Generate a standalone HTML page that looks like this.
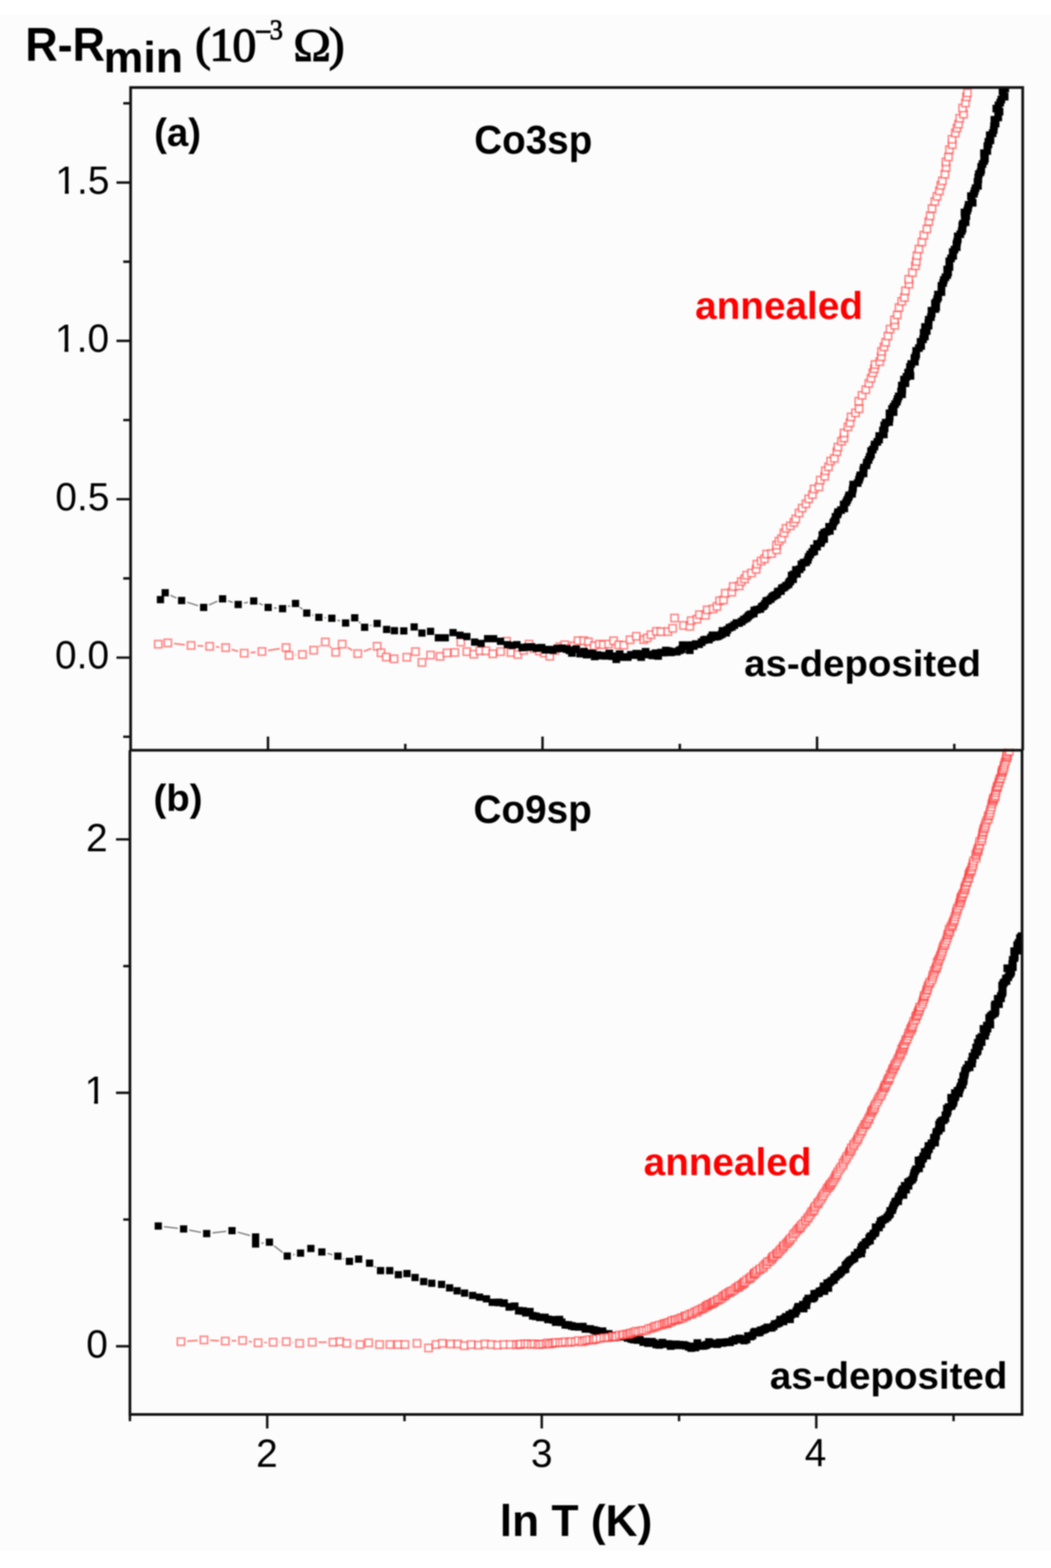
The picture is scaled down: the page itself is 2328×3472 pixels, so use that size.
<!DOCTYPE html>
<html><head><meta charset="utf-8"><title>R-Rmin vs ln T</title>
<style>
html,body{margin:0;padding:0;background:#fcfcfc;}
body{width:2328px;height:3472px;overflow:hidden;position:relative;}
.top{position:absolute;left:0;top:0;width:2328px;height:32px;background:#fff;}
.bot{position:absolute;left:0;top:3433px;width:2328px;height:39px;background:#fff;}
svg{position:absolute;left:0;top:0;filter:blur(1.4px);}
.sans{font-family:"Liberation Sans",Arial,sans-serif;}
.serif{font-family:"Liberation Serif","Times New Roman",serif;}
</style></head>
<body><div class="top"></div><div class="bot"></div>
<svg width="2328" height="3472" viewBox="0 0 2328 3472">
<defs>
<rect id="r" x="-8" y="-8" width="16" height="16" fill="#fff" stroke="rgba(255,30,30,0.52)" stroke-width="3.6"/>
<clipPath id="ca"><rect x="289.3" y="193.8" width="1976.0000000000002" height="1467.4"/></clipPath>
<clipPath id="cb"><rect x="287.8" y="1657.2" width="1974.1000000000001" height="1474.8"/></clipPath>
</defs>
<g clip-path="url(#ca)">
<path d="M385.6 1425L409.4 1427.7M437.3 1429.8L450.4 1430.5M478.4 1432.2L485.8 1432.9M513.2 1438L527.6 1442.4M554.9 1445L566.3 1444M594 1440.3L619.8 1436.2M654.3 1450.2L655.9 1450.1M706.2 1431.6L709.2 1429.6M730.5 1431.4L733.7 1434.5M769.9 1433.6L780.4 1440M805.5 1442.3L822.3 1436" fill="none" stroke="#ff7a7a" stroke-width="3.5"/>
<use href="#r" x="350.6" y="1426.4"/><use href="#r" x="371.7" y="1423.5"/><use href="#r" x="423.3" y="1429.2"/><use href="#r" x="464.4" y="1431.1"/><use href="#r" x="499.8" y="1434"/><use href="#r" x="541" y="1446.4"/><use href="#r" x="580.2" y="1442.6"/><use href="#r" x="633.6" y="1433.9"/><use href="#r" x="640.3" y="1451.1"/><use href="#r" x="669.9" y="1449.2"/><use href="#r" x="694.8" y="1439.7"/><use href="#r" x="720.6" y="1421.5"/><use href="#r" x="743.6" y="1444.4"/><use href="#r" x="757.9" y="1426.3"/><use href="#r" x="792.4" y="1447.3"/><use href="#r" x="835.4" y="1431"/><use href="#r" x="844" y="1445.4"/><use href="#r" x="855.5" y="1455"/><use href="#r" x="872.7" y="1458.8"/><use href="#r" x="901.1" y="1455.3"/><use href="#r" x="920.3" y="1442.9"/><use href="#r" x="934.6" y="1466.8"/><use href="#r" x="953.7" y="1450.5"/><use href="#r" x="974.8" y="1453.4"/><use href="#r" x="990.1" y="1445.7"/><use href="#r" x="1007.3" y="1444.8"/><use href="#r" x="1020.7" y="1421.8"/><use href="#r" x="1034.1" y="1442.9"/><use href="#r" x="1049.4" y="1448.6"/><use href="#r" x="1062.8" y="1441"/><use href="#r" x="1076.2" y="1441"/><use href="#r" x="1091.5" y="1447.7"/><use href="#r" x="1108.7" y="1442.9"/><use href="#r" x="1122.1" y="1419.9"/><use href="#r" x="1131.7" y="1444.8"/><use href="#r" x="1147" y="1449.3"/><use href="#r" x="1160" y="1440"/><use href="#r" x="1171.9" y="1426.3"/><use href="#r" x="1183" y="1436"/><use href="#r" x="1194.8" y="1441.6"/><use href="#r" x="1206" y="1446"/><use href="#r" x="1217.8" y="1453.1"/><use href="#r" x="1229" y="1440"/><use href="#r" x="1240" y="1432"/><use href="#r" x="1251" y="1427.6"/><use href="#r" x="1262" y="1436"/><use href="#r" x="1271" y="1430"/><use href="#r" x="1280.3" y="1418.7"/><use href="#r" x="1293.1" y="1418.7"/><use href="#r" x="1303.3" y="1421.2"/><use href="#r" x="1305.8" y="1436.5"/><use href="#r" x="1316" y="1430"/><use href="#r" x="1327.5" y="1426.3"/><use href="#r" x="1336.4" y="1427.6"/><use href="#r" x="1348.1" y="1426.2"/><use href="#r" x="1359.1" y="1418.8"/><use href="#r" x="1370.3" y="1428"/><use href="#r" x="1381.8" y="1428.7"/><use href="#r" x="1395.7" y="1416.6"/><use href="#r" x="1409.4" y="1408.9"/><use href="#r" x="1426" y="1416.4"/><use href="#r" x="1433.6" y="1412.5"/><use href="#r" x="1441.9" y="1405.4"/><use href="#r" x="1453.9" y="1398.1"/><use href="#r" x="1463.9" y="1398.7"/><use href="#r" x="1479.2" y="1398.5"/><use href="#r" x="1489.9" y="1391.3"/><use href="#r" x="1494.2" y="1368.5"/><use href="#r" x="1514" y="1384.8"/><use href="#r" x="1528" y="1386.9"/><use href="#r" x="1530.9" y="1374.4"/><use href="#r" x="1543.7" y="1371.1"/><use href="#r" x="1549.3" y="1361.1"/><use href="#r" x="1562.7" y="1362.4"/><use href="#r" x="1566.4" y="1350.4"/><use href="#r" x="1579.4" y="1348.4"/><use href="#r" x="1588.1" y="1342.9"/><use href="#r" x="1594" y="1330.3"/><use href="#r" x="1602.6" y="1328.6"/><use href="#r" x="1606.5" y="1313.7"/><use href="#r" x="1620.8" y="1311.3"/><use href="#r" x="1624.1" y="1298.6"/><use href="#r" x="1637.4" y="1297.3"/><use href="#r" x="1641.9" y="1287.8"/><use href="#r" x="1649.2" y="1281.9"/><use href="#r" x="1653.7" y="1273.7"/><use href="#r" x="1664.5" y="1268.9"/><use href="#r" x="1674.8" y="1260.7"/><use href="#r" x="1676.6" y="1249.3"/><use href="#r" x="1685.9" y="1242.4"/><use href="#r" x="1693.4" y="1237.5"/><use href="#r" x="1698.1" y="1227"/><use href="#r" x="1709" y="1225.7"/><use href="#r" x="1720.3" y="1217.6"/><use href="#r" x="1719.9" y="1207"/><use href="#r" x="1725.4" y="1198.4"/><use href="#r" x="1731.3" y="1192.6"/><use href="#r" x="1736.6" y="1180"/><use href="#r" x="1741.2" y="1170"/><use href="#r" x="1750.6" y="1164.4"/><use href="#r" x="1758.5" y="1156.8"/><use href="#r" x="1762.6" y="1149"/><use href="#r" x="1770" y="1136"/><use href="#r" x="1776.8" y="1125.1"/><use href="#r" x="1785.2" y="1115.6"/><use href="#r" x="1791.3" y="1104.6"/><use href="#r" x="1799.6" y="1095.2"/><use href="#r" x="1803.1" y="1082.7"/><use href="#r" x="1814.1" y="1078.1"/><use href="#r" x="1816.9" y="1063.1"/><use href="#r" x="1826.8" y="1054.7"/><use href="#r" x="1828.2" y="1042.4"/><use href="#r" x="1835.2" y="1033.6"/><use href="#r" x="1839.9" y="1020.9"/><use href="#r" x="1848.2" y="1014.9"/><use href="#r" x="1853.7" y="1000.4"/><use href="#r" x="1856" y="989.9"/><use href="#r" x="1863.8" y="977.1"/><use href="#r" x="1869.4" y="969.9"/><use href="#r" x="1869.6" y="958.7"/><use href="#r" x="1878.2" y="945.4"/><use href="#r" x="1882.8" y="936.3"/><use href="#r" x="1885.2" y="923.2"/><use href="#r" x="1895" y="914.3"/><use href="#r" x="1903" y="905.1"/><use href="#r" x="1902.2" y="888.6"/><use href="#r" x="1909.4" y="875.4"/><use href="#r" x="1917.8" y="862.9"/><use href="#r" x="1924.5" y="849"/><use href="#r" x="1929.4" y="837.7"/><use href="#r" x="1933.3" y="825.7"/><use href="#r" x="1936.8" y="816.5"/><use href="#r" x="1938.3" y="807.2"/><use href="#r" x="1948.6" y="800.9"/><use href="#r" x="1952.1" y="789.9"/><use href="#r" x="1952.6" y="778.2"/><use href="#r" x="1958.1" y="768.1"/><use href="#r" x="1961.7" y="757.9"/><use href="#r" x="1966.9" y="744"/><use href="#r" x="1971.5" y="728.7"/><use href="#r" x="1981.9" y="720.4"/><use href="#r" x="1981.2" y="708.3"/><use href="#r" x="1987.4" y="697.2"/><use href="#r" x="1991.4" y="681"/><use href="#r" x="1997.4" y="667.4"/><use href="#r" x="2003.3" y="658.7"/><use href="#r" x="2005.5" y="643.8"/><use href="#r" x="2013.7" y="629.3"/><use href="#r" x="2012.9" y="618.4"/><use href="#r" x="2021" y="603.6"/><use href="#r" x="2027.7" y="588.6"/><use href="#r" x="2029.7" y="579"/><use href="#r" x="2031.2" y="565.9"/><use href="#r" x="2035.5" y="551.6"/><use href="#r" x="2042" y="535.9"/><use href="#r" x="2046.4" y="520.9"/><use href="#r" x="2053.1" y="507"/><use href="#r" x="2057.4" y="490.5"/><use href="#r" x="2060.3" y="478"/><use href="#r" x="2064.5" y="461.8"/><use href="#r" x="2070.7" y="446.2"/><use href="#r" x="2075.5" y="434.8"/><use href="#r" x="2080.8" y="422.7"/><use href="#r" x="2083.8" y="410.5"/><use href="#r" x="2087.4" y="400.5"/><use href="#r" x="2093" y="385.8"/><use href="#r" x="2095.6" y="370.8"/><use href="#r" x="2095.3" y="358.6"/><use href="#r" x="2100.9" y="347.6"/><use href="#r" x="2103.1" y="331.4"/><use href="#r" x="2109.3" y="320.2"/><use href="#r" x="2108.8" y="308.4"/><use href="#r" x="2116.1" y="294.7"/><use href="#r" x="2119.7" y="283.6"/><use href="#r" x="2123.2" y="274.9"/><use href="#r" x="2125.9" y="261.9"/><use href="#r" x="2134.2" y="252.9"/><use href="#r" x="2132.2" y="239.3"/><use href="#r" x="2138.6" y="228.1"/><use href="#r" x="2140.8" y="214.3"/><use href="#r" x="2142.9" y="205.7"/>
<path d="M377.7 1318.1L390.5 1324.1M414.7 1333.6L438.7 1341.1M462.9 1339.6L481.3 1331.3M505.3 1330.3L515.4 1334M540.3 1335.6L549.3 1333.5M573.9 1336L582.1 1339.7M607 1346.1L612.9 1346.7M638 1343L642.5 1341.1M664.5 1344.7L669.6 1349M691.7 1361.8L694.1 1362.6M719.3 1367.9L722 1368M747.3 1373.1L753.3 1375.2M795.1 1376.9L798.3 1380M820.1 1385.1L823 1384.3" fill="none" stroke="#7a7a7a" stroke-width="3"/>
<path d="M347.4 1319.8h16v16h-16zM357.9 1304.5h16v16h-16zM394.3 1321.7h16v16h-16zM443.1 1337h16v16h-16zM485.1 1317.9h16v16h-16zM519.6 1330.4h16v16h-16zM554 1322.7h16v16h-16zM586 1337h16v16h-16zM617.9 1339.8h16v16h-16zM646.6 1328.3h16v16h-16zM671.5 1349.4h16v16h-16zM698.3 1359h16v16h-16zM727 1360.9h16v16h-16zM757.6 1371.4h16v16h-16zM777.7 1359.9h16v16h-16zM799.7 1381h16v16h-16zM827.4 1372.4h16v16h-16zM848.4 1385.7h16v16h-16zM865.7 1388.6h16v16h-16zM886.4 1389h16v16h-16zM909.4 1380.3h16v16h-16zM926.6 1393.7h16v16h-16zM945.7 1389.9h16v16h-16zM963 1404.3h16v16h-16zM978.3 1404.3h16v16h-16zM995.5 1392.8h16v16h-16zM1010.8 1398.5h16v16h-16zM1026.1 1401.4h16v16h-16zM1043.3 1413.8h16v16h-16zM1057.7 1416.7h16v16h-16zM1072 1406.2h16v16h-16zM1085.4 1406.2h16v16h-16zM1100.7 1411.9h16v16h-16zM1116 1419.6h16v16h-16zM1126.5 1421h16v16h-16zM1137 1419.6h16v16h-16zM1148.5 1425.2h17v17h-17zM1160.5 1424.2h17v17h-17zM1168.5 1423.9h17v17h-17zM1179.9 1426.5h17v17h-17zM1191.1 1425.7h17v17h-17zM1199.5 1430.2h17v17h-17zM1207.4 1429.9h17v17h-17zM1216 1430.7h17v17h-17zM1225.7 1427.5h17v17h-17zM1236 1427h17v17h-17zM1246.8 1428.7h17v17h-17zM1253.1 1431.6h17v17h-17zM1258.4 1437.3h17v17h-17zM1267.7 1429h17v17h-17zM1276.6 1438.8h17v17h-17zM1285.1 1434.5h17v17h-17zM1291.1 1440.9h17v17h-17zM1297.7 1438.2h17v17h-17zM1303.9 1438.7h17v17h-17zM1308.7 1445.1h17v17h-17zM1314.9 1442h17v17h-17zM1323.9 1443.2h17v17h-17zM1332.7 1443.7h17v17h-17zM1341.1 1438.4h17v17h-17zM1348.2 1444.4h17v17h-17zM1356.6 1451.2h17v17h-17zM1364.1 1440h17v17h-17zM1370.4 1446.2h17v17h-17zM1375.8 1446.6h17v17h-17zM1382 1446.4h17v17h-17zM1388.9 1441.5h17v17h-17zM1395.9 1441.9h17v17h-17zM1400.9 1439.1h17v17h-17zM1406.5 1442.3h17v17h-17zM1411.7 1446.6h17v17h-17zM1416.4 1439.5h17v17h-17zM1421.5 1434.8h17v17h-17zM1428.9 1440.8h17v17h-17zM1436.6 1442.7h17v17h-17zM1443.7 1438.1h17v17h-17zM1449.3 1444h17v17h-17zM1455.9 1436.5h17v17h-17zM1460.7 1436.4h17v17h-17zM1466.4 1431.9h17v17h-17zM1472.1 1433.2h17v17h-17zM1477.7 1436h17v17h-17zM1484.7 1434.6h17v17h-17zM1490.8 1434.6h17v17h-17zM1496.8 1431.4h17v17h-17zM1501.7 1429.3h17v17h-17zM1503.7 1420.1h17v17h-17zM1510.7 1422.3h17v17h-17zM1519.3 1431.2h17v17h-17zM1521.1 1420.1h17v17h-17zM1528.2 1421.9h17v17h-17zM1532.7 1417.8h17v17h-17zM1540 1417.9h17v17h-17zM1545.7 1413.5h17v17h-17zM1550.6 1409h17v17h-17zM1554.7 1407.8h17v17h-17zM1561.7 1407.7h17v17h-17zM1566.2 1403.6h17v17h-17zM1569.6 1398.2h17v17h-17zM1576.2 1401.6h17v17h-17zM1581.1 1400.6h17v17h-17zM1585.4 1398.2h17v17h-17zM1590.4 1395.7h17v17h-17zM1591.8 1388.5h17v17h-17zM1599.8 1392.6h17v17h-17zM1602.5 1386.2h17v17h-17zM1607.3 1381.5h17v17h-17zM1612.6 1379.6h17v17h-17zM1617.8 1375.8h17v17h-17zM1622.8 1371.3h17v17h-17zM1628.5 1371h17v17h-17zM1634.4 1367.7h17v17h-17zM1639.1 1363.5h17v17h-17zM1644.5 1360.8h17v17h-17zM1647.9 1357.5h17v17h-17zM1650.7 1354h17v17h-17zM1654.4 1351.7h17v17h-17zM1661 1349.9h17v17h-17zM1662.4 1343.2h17v17h-17zM1668.2 1341.4h17v17h-17zM1675.6 1339.9h17v17h-17zM1679 1335h17v17h-17zM1682.9 1333h17v17h-17zM1685.8 1328.7h17v17h-17zM1688.8 1322.6h17v17h-17zM1693 1321.3h17v17h-17zM1698.5 1318h17v17h-17zM1701.7 1313.6h17v17h-17zM1704.9 1311.3h17v17h-17zM1708.2 1309.4h17v17h-17zM1712.7 1307.5h17v17h-17zM1714.5 1301.4h17v17h-17zM1721.2 1300.2h17v17h-17zM1723.5 1294.1h17v17h-17zM1728.5 1292.3h17v17h-17zM1732.6 1288.6h17v17h-17zM1737.8 1285.4h17v17h-17zM1739.7 1281.1h17v17h-17zM1742.4 1278.2h17v17h-17zM1748.2 1274.1h17v17h-17zM1745 1265.9h17v17h-17zM1749.5 1263.4h17v17h-17zM1756.8 1262h17v17h-17zM1754.5 1253.5h17v17h-17zM1762.8 1252.1h17v17h-17zM1766.9 1247.2h17v17h-17zM1766.7 1241.2h17v17h-17zM1771.6 1237.4h17v17h-17zM1777.1 1236.4h17v17h-17zM1780.7 1231.5h17v17h-17zM1782.6 1224.7h17v17h-17zM1786.1 1219.3h17v17h-17zM1790.5 1213.9h17v17h-17zM1795.1 1212.3h17v17h-17zM1794.4 1205.9h17v17h-17zM1801.3 1202h17v17h-17zM1801.4 1196.1h17v17h-17zM1809.5 1194.1h17v17h-17zM1811.2 1188.8h17v17h-17zM1817 1185.1h17v17h-17zM1813.1 1175.9h17v17h-17zM1816.9 1171.3h17v17h-17zM1822.3 1169h17v17h-17zM1829.6 1167h17v17h-17zM1828 1158h17v17h-17zM1835.7 1156.7h17v17h-17zM1837.1 1149.5h17v17h-17zM1839.5 1145.6h17v17h-17zM1842.9 1142.5h17v17h-17zM1842.2 1136.1h17v17h-17zM1846.7 1130.4h17v17h-17zM1848 1125.6h17v17h-17zM1854.4 1120.9h17v17h-17zM1861.6 1117.3h17v17h-17zM1860.3 1108.6h17v17h-17zM1865.8 1103.5h17v17h-17zM1868.3 1098.5h17v17h-17zM1870.9 1093h17v17h-17zM1872.6 1088.3h17v17h-17zM1878.8 1084.7h17v17h-17zM1879.8 1076.7h17v17h-17zM1881 1071.8h17v17h-17zM1881.4 1064.5h17v17h-17zM1891.3 1061h17v17h-17zM1894.1 1054.2h17v17h-17zM1895.8 1048.7h17v17h-17zM1897.2 1043.9h17v17h-17zM1904.3 1039.7h17v17h-17zM1903.5 1032.7h17v17h-17zM1904.9 1026.9h17v17h-17zM1910.8 1021.8h17v17h-17zM1911.6 1015.8h17v17h-17zM1915.3 1010h17v17h-17zM1917.9 1003.1h17v17h-17zM1920.8 998.3h17v17h-17zM1920.9 990.5h17v17h-17zM1924.7 987h17v17h-17zM1928.2 980.6h17v17h-17zM1928.9 975.8h17v17h-17zM1934.8 969.9h17v17h-17zM1938.7 964.7h17v17h-17zM1939.1 957.1h17v17h-17zM1949.2 953.6h17v17h-17zM1947.2 944.8h17v17h-17zM1951 939.9h17v17h-17zM1950.1 933.5h17v17h-17zM1953.5 927.5h17v17h-17zM1960.9 926h17v17h-17zM1961.8 918.1h17v17h-17zM1962.3 912.6h17v17h-17zM1961.8 906.8h17v17h-17zM1970.8 904.1h17v17h-17zM1967.4 897.1h17v17h-17zM1970.9 892h17v17h-17zM1974.3 886.2h17v17h-17zM1978 881h17v17h-17zM1979.8 875h17v17h-17zM1982.2 869.2h17v17h-17zM1989.6 864.6h17v17h-17zM1987.4 858.2h17v17h-17zM1990.1 854.2h17v17h-17zM1989 845.3h17v17h-17zM1997 840.1h17v17h-17zM1993.9 832h17v17h-17zM1999.3 825.9h17v17h-17zM2008.2 823.7h17v17h-17zM2003 816.6h17v17h-17zM2007 811.7h17v17h-17zM2007.2 804h17v17h-17zM2009.9 797.4h17v17h-17zM2017.9 792.6h17v17h-17zM2017 784.6h17v17h-17zM2019.7 780.3h17v17h-17zM2021 775.5h17v17h-17zM2020.9 768.4h17v17h-17zM2026.8 762.3h17v17h-17zM2031.8 757.6h17v17h-17zM2030.6 748.6h17v17h-17zM2036.1 742.8h17v17h-17zM2040.2 736.6h17v17h-17zM2037.4 728.2h17v17h-17zM2044.3 724.5h17v17h-17zM2040.5 715.6h17v17h-17zM2048.3 712.6h17v17h-17zM2047.9 706.9h17v17h-17zM2048.7 699.5h17v17h-17zM2053.5 693.7h17v17h-17zM2055.2 685.8h17v17h-17zM2054.8 679.4h17v17h-17zM2063.3 675.8h17v17h-17zM2065.1 671.5h17v17h-17zM2062.4 663.6h17v17h-17zM2065.3 659.9h17v17h-17zM2067.5 653.5h17v17h-17zM2069.6 649.4h17v17h-17zM2069.1 643.7h17v17h-17zM2076.8 638.3h17v17h-17zM2076.8 631.9h17v17h-17zM2076.9 624.5h17v17h-17zM2080.5 617.9h17v17h-17zM2082.1 611.4h17v17h-17zM2085.7 605.4h17v17h-17zM2089.6 600.5h17v17h-17zM2091.6 595h17v17h-17zM2089.6 588.2h17v17h-17zM2094.6 582.4h17v17h-17zM2094.2 576.3h17v17h-17zM2094.2 570.2h17v17h-17zM2098.1 563.8h17v17h-17zM2102.8 558.1h17v17h-17zM2101.8 549.7h17v17h-17zM2105.8 544.3h17v17h-17zM2110.7 538.7h17v17h-17zM2110 532.2h17v17h-17zM2111.6 527.1h17v17h-17zM2113 521.3h17v17h-17zM2112.9 514.9h17v17h-17zM2118.6 510h17v17h-17zM2121.7 502.9h17v17h-17zM2123.6 498h17v17h-17zM2123 491.2h17v17h-17zM2124.5 486.9h17v17h-17zM2130.3 483.5h17v17h-17zM2128.5 475.1h17v17h-17zM2131.9 469.7h17v17h-17zM2127.9 462.1h17v17h-17zM2134.1 457.4h17v17h-17zM2135.8 452.1h17v17h-17zM2137 445h17v17h-17zM2146 440.4h17v17h-17zM2143.6 433.4h17v17h-17zM2142.2 425.7h17v17h-17zM2148.6 420.6h17v17h-17zM2150.5 414.2h17v17h-17zM2152.5 408.3h17v17h-17zM2157.7 403h17v17h-17zM2156.7 394.3h17v17h-17zM2158.5 389.1h17v17h-17zM2158.3 384.2h17v17h-17zM2159.7 377h17v17h-17zM2163.4 372.8h17v17h-17zM2164.9 367.4h17v17h-17zM2164.9 360.9h17v17h-17zM2167.8 354.7h17v17h-17zM2171.3 348.1h17v17h-17zM2173.1 342.7h17v17h-17zM2173.2 336.5h17v17h-17zM2171.1 330.7h17v17h-17zM2178.4 325.7h17v17h-17zM2178.4 320.6h17v17h-17zM2178.6 315h17v17h-17zM2180.9 310.9h17v17h-17zM2180.8 305.6h17v17h-17zM2185.3 302.3h17v17h-17zM2185.4 296.6h17v17h-17zM2183.9 290.9h17v17h-17zM2190.2 286.4h17v17h-17zM2192.6 279.3h17v17h-17zM2193.3 271.1h17v17h-17zM2196.8 264.9h17v17h-17zM2194.1 256.8h17v17h-17zM2202.6 251.5h17v17h-17zM2202.5 243h17v17h-17zM2205.5 238.7h17v17h-17zM2198.4 231.9h17v17h-17zM2203.1 224.8h17v17h-17zM2207 218.8h17v17h-17zM2209.5 212h17v17h-17zM2216.8 205.4h17v17h-17zM2213.8 198.6h17v17h-17zM2212.2 193.3h17v17h-17zM2218.2 187.4h17v17h-17z" fill="#000"/>
</g>
<g clip-path="url(#cb)">
<path d="M363.5 2716.3L393.8 2719.7M419.4 2723.7L445.1 2728.9M470.7 2729.9L501 2726.5M526.5 2728.4L553.6 2735.7M579.1 2752.8L583.9 2752.2M607.1 2758.6L626 2773.2M649 2778.4L653 2777.6M725.5 2775.5L735.9 2778.3M760.4 2786.9L762.1 2787.8M829.3 2804.2L832.2 2806.2" fill="none" stroke="#7a7a7a" stroke-width="3"/>
<path d="M342.6 2706.8h16v16h-16zM398.7 2713.2h16v16h-16zM449.8 2723.4h16v16h-16zM505.9 2717h16v16h-16zM558.2 2731.1h16v16h-16zM558.2 2746.4h16v16h-16zM588.8 2742.6h16v16h-16zM628.3 2773.2h16v16h-16zM657.7 2766.8h16v16h-16zM680.6 2756.6h16v16h-16zM704.9 2764.2h16v16h-16zM740.5 2773.6h16v16h-16zM766 2785.1h16v16h-16zM786.4 2780h16v16h-16zM810.6 2788.9h16v16h-16zM834.9 2805.5h16v16h-16zM855.3 2805.5h16v16h-16zM874.4 2814.4h16v16h-16zM893.5 2811.9h16v16h-16zM911.4 2820.8h16v16h-16zM930.5 2829.8h16v16h-16zM948.4 2833.6h16v16h-16zM970.1 2836.1h16v16h-16zM987.9 2843.8h16v16h-16zM1004.5 2850.2h16v16h-16zM1021.1 2855.3h16v16h-16zM1038.9 2860.4h16v16h-16zM1054.2 2864.2h16v16h-16zM1069.6 2868h16v16h-16zM1082.3 2875.7h16v16h-16zM1095.9 2875.6h17v17h-17zM1107.9 2877.1h17v17h-17zM1119.7 2885.2h17v17h-17zM1131.5 2884h17v17h-17zM1140.6 2893.7h17v17h-17zM1150.1 2894.4h17v17h-17zM1156.5 2898.2h17v17h-17zM1165 2896.1h17v17h-17zM1171.6 2905h17v17h-17zM1178.5 2906.3h17v17h-17zM1187.5 2908.4h17v17h-17zM1198.5 2908.7h17v17h-17zM1205.4 2913.1h17v17h-17zM1216.9 2914.1h17v17h-17zM1222.5 2919.1h17v17h-17zM1230.6 2913.6h17v17h-17zM1235.6 2919.5h17v17h-17zM1243.8 2925.1h17v17h-17zM1250.7 2925.6h17v17h-17zM1258 2927.6h17v17h-17zM1264.2 2928.9h17v17h-17zM1273.4 2929.6h17v17h-17zM1282.5 2929.1h17v17h-17zM1288.3 2934.1h17v17h-17zM1298.6 2934.2h17v17h-17zM1306.7 2936.5h17v17h-17zM1311.9 2938.1h17v17h-17zM1317.4 2939.7h17v17h-17zM1326.1 2939.2h17v17h-17zM1333.7 2945.2h17v17h-17zM1339.7 2945.3h17v17h-17zM1347.7 2949.5h17v17h-17zM1353.2 2953h17v17h-17zM1360.4 2951.3h17v17h-17zM1367.6 2951.3h17v17h-17zM1374.9 2949.3h17v17h-17zM1381.7 2954h17v17h-17zM1389.7 2956.3h17v17h-17zM1395.4 2957.7h17v17h-17zM1403.7 2958.7h17v17h-17zM1408.8 2958.3h17v17h-17zM1416.3 2963.3h17v17h-17zM1421.2 2962.2h17v17h-17zM1427.1 2965.5h17v17h-17zM1435.5 2962.4h17v17h-17zM1439.9 2965.6h17v17h-17zM1445.3 2968.6h17v17h-17zM1451.7 2969.4h17v17h-17zM1458.5 2964.5h17v17h-17zM1465.2 2967.7h17v17h-17zM1471.7 2967.6h17v17h-17zM1477 2972h17v17h-17zM1482.9 2970.5h17v17h-17zM1488.4 2968.2h17v17h-17zM1492.4 2969.9h17v17h-17zM1496.4 2969h17v17h-17zM1501.4 2970.5h17v17h-17zM1506.2 2969.5h17v17h-17zM1510.5 2971.2h17v17h-17zM1517.3 2973.7h17v17h-17zM1522.6 2976.4h17v17h-17zM1527.1 2972.7h17v17h-17zM1531.8 2975.2h17v17h-17zM1536.2 2965.6h17v17h-17zM1542.8 2971.9h17v17h-17zM1548.9 2971.7h17v17h-17zM1553.5 2970.7h17v17h-17zM1557.1 2969.1h17v17h-17zM1561.9 2963.2h17v17h-17zM1567.6 2965.8h17v17h-17zM1574.1 2967.1h17v17h-17zM1580 2967.9h17v17h-17zM1585.6 2963.9h17v17h-17zM1591.7 2965.2h17v17h-17zM1596.7 2964h17v17h-17zM1600.5 2963.4h17v17h-17zM1604.6 2963h17v17h-17zM1608.5 2963.7h17v17h-17zM1613.7 2960.2h17v17h-17zM1617 2960h17v17h-17zM1620.1 2957.3h17v17h-17zM1625 2957.4h17v17h-17zM1629 2955.3h17v17h-17zM1634.6 2956.9h17v17h-17zM1639.9 2959.7h17v17h-17zM1645.2 2957.4h17v17h-17zM1648.2 2950.1h17v17h-17zM1654.4 2950.9h17v17h-17zM1658.3 2948.5h17v17h-17zM1661.3 2942.5h17v17h-17zM1664.2 2940.3h17v17h-17zM1668.5 2942.6h17v17h-17zM1674.2 2941.7h17v17h-17zM1676.2 2937.5h17v17h-17zM1679.6 2937.1h17v17h-17zM1684 2935.4h17v17h-17zM1686.9 2933.8h17v17h-17zM1691.3 2930.8h17v17h-17zM1695.5 2931.7h17v17h-17zM1700.8 2931.5h17v17h-17zM1705.2 2928.2h17v17h-17zM1707.7 2923.5h17v17h-17zM1712.6 2922.8h17v17h-17zM1717.2 2920.7h17v17h-17zM1719.6 2913.6h17v17h-17zM1726.9 2917.5h17v17h-17zM1729.1 2911.2h17v17h-17zM1732.3 2907.4h17v17h-17zM1741.4 2912.8h17v17h-17zM1740 2903h17v17h-17zM1744.2 2902.3h17v17h-17zM1746.8 2899.2h17v17h-17zM1752.7 2900.2h17v17h-17zM1755.5 2894.3h17v17h-17zM1758.3 2888.5h17v17h-17zM1759.9 2885.1h17v17h-17zM1764.9 2886.3h17v17h-17zM1771.6 2889h17v17h-17zM1770 2880.6h17v17h-17zM1777.8 2881.8h17v17h-17zM1777.6 2875.1h17v17h-17zM1779 2871.9h17v17h-17zM1782 2866.7h17v17h-17zM1789.6 2867.3h17v17h-17zM1793.3 2865.5h17v17h-17zM1795.6 2862.3h17v17h-17zM1795 2856.4h17v17h-17zM1801.1 2855.7h17v17h-17zM1805.3 2855.1h17v17h-17zM1806.8 2850.9h17v17h-17zM1812.2 2849.3h17v17h-17zM1817.5 2850.2h17v17h-17zM1815.7 2839.8h17v17h-17zM1826.3 2843.5h17v17h-17zM1823.8 2833.1h17v17h-17zM1829.5 2831.1h17v17h-17zM1833.3 2827.4h17v17h-17zM1838.6 2825.6h17v17h-17zM1839.2 2820.8h17v17h-17zM1843.2 2818.3h17v17h-17zM1846.8 2814.1h17v17h-17zM1850.3 2812.5h17v17h-17zM1853.9 2808.8h17v17h-17zM1856.2 2804.8h17v17h-17zM1861.1 2802.8h17v17h-17zM1864.4 2801.5h17v17h-17zM1864.3 2794h17v17h-17zM1866.6 2791.8h17v17h-17zM1869.3 2788.7h17v17h-17zM1872.3 2785.2h17v17h-17zM1875.1 2782.4h17v17h-17zM1879.5 2780.1h17v17h-17zM1884 2777.6h17v17h-17zM1884.9 2771.4h17v17h-17zM1890.6 2769h17v17h-17zM1891.3 2765.1h17v17h-17zM1899.4 2767h17v17h-17zM1898 2759.7h17v17h-17zM1901.1 2757.9h17v17h-17zM1900 2752.8h17v17h-17zM1903.6 2748.8h17v17h-17zM1907.8 2747.9h17v17h-17zM1908.7 2743h17v17h-17zM1912.7 2740.9h17v17h-17zM1918.5 2738.5h17v17h-17zM1917 2732.8h17v17h-17zM1919.6 2729.2h17v17h-17zM1923.5 2728.1h17v17h-17zM1926.1 2723.1h17v17h-17zM1930.1 2721.5h17v17h-17zM1931.1 2717.2h17v17h-17zM1931.3 2713.2h17v17h-17zM1931.2 2709h17v17h-17zM1938.3 2709.5h17v17h-17zM1939.6 2703.5h17v17h-17zM1943.4 2701.7h17v17h-17zM1942.1 2695.6h17v17h-17zM1947.2 2692.9h17v17h-17zM1952.3 2690.4h17v17h-17zM1957 2686.7h17v17h-17zM1960.2 2682.2h17v17h-17zM1963 2679.1h17v17h-17zM1963.3 2673.1h17v17h-17zM1967.7 2671h17v17h-17zM1969 2666.3h17v17h-17zM1971 2660.7h17v17h-17zM1973.8 2655.5h17v17h-17zM1975.5 2651.7h17v17h-17zM1981.1 2651.2h17v17h-17zM1981.1 2646.7h17v17h-17zM1982.6 2641h17v17h-17zM1986.5 2637.6h17v17h-17zM1992.6 2637.4h17v17h-17zM1988.2 2629.2h17v17h-17zM1990.9 2625h17v17h-17zM1998.5 2625.8h17v17h-17zM1995.5 2617.3h17v17h-17zM2003.9 2617h17v17h-17zM2002.8 2609.5h17v17h-17zM2007.1 2607h17v17h-17zM2011.7 2603.7h17v17h-17zM2014.4 2599.2h17v17h-17zM2015.1 2595.6h17v17h-17zM2016.4 2589.5h17v17h-17zM2018.5 2584.5h17v17h-17zM2020.8 2580.6h17v17h-17zM2027.2 2578.6h17v17h-17zM2027.1 2572.6h17v17h-17zM2031.6 2569.1h17v17h-17zM2026.1 2561h17v17h-17zM2032.7 2559.4h17v17h-17zM2036 2556.8h17v17h-17zM2036.7 2552.1h17v17h-17zM2044.9 2550.2h17v17h-17zM2039.8 2542.6h17v17h-17zM2046.2 2539.5h17v17h-17zM2049.3 2535.7h17v17h-17zM2048 2529.2h17v17h-17zM2053.5 2528.1h17v17h-17zM2054.9 2523h17v17h-17zM2062.8 2521.5h17v17h-17zM2061.6 2516.1h17v17h-17zM2060.1 2510.8h17v17h-17zM2064.8 2507.5h17v17h-17zM2065.1 2503.8h17v17h-17zM2065.7 2497.9h17v17h-17zM2070.1 2495.5h17v17h-17zM2071.4 2492.2h17v17h-17zM2076.1 2489.2h17v17h-17zM2071.5 2481.7h17v17h-17zM2074 2477.1h17v17h-17zM2077.7 2473h17v17h-17zM2082.5 2471.6h17v17h-17zM2085.7 2467.6h17v17h-17zM2085.6 2461.1h17v17h-17zM2088.8 2456.8h17v17h-17zM2090.7 2451.9h17v17h-17zM2088.8 2446.4h17v17h-17zM2092.7 2443.1h17v17h-17zM2098.8 2440.6h17v17h-17zM2100.6 2436.7h17v17h-17zM2103.2 2433.3h17v17h-17zM2104 2428.8h17v17h-17zM2098.3 2422.3h17v17h-17zM2106.3 2422h17v17h-17zM2107.9 2419h17v17h-17zM2106.6 2412.1h17v17h-17zM2115.4 2412.5h17v17h-17zM2112.4 2407.1h17v17h-17zM2116.4 2405.2h17v17h-17zM2118 2400.9h17v17h-17zM2119.4 2397.1h17v17h-17zM2123.4 2393.4h17v17h-17zM2121.7 2387.9h17v17h-17zM2125.7 2385.9h17v17h-17zM2126.5 2381.5h17v17h-17zM2125 2374.8h17v17h-17zM2127.8 2372.3h17v17h-17zM2128.9 2366.9h17v17h-17zM2129.6 2361.9h17v17h-17zM2132.6 2356.9h17v17h-17zM2139.3 2354.7h17v17h-17zM2136.7 2348.9h17v17h-17zM2144.6 2346.4h17v17h-17zM2143.6 2341.3h17v17h-17zM2145.7 2336.7h17v17h-17zM2145.7 2330.9h17v17h-17zM2151.4 2328.1h17v17h-17zM2150.3 2322.8h17v17h-17zM2155.6 2320.6h17v17h-17zM2157.2 2317.3h17v17h-17zM2153.6 2310.9h17v17h-17zM2160.8 2308.3h17v17h-17zM2157.3 2300.5h17v17h-17zM2165.9 2299h17v17h-17zM2161.3 2291.1h17v17h-17zM2165.9 2287.5h17v17h-17zM2173.4 2285h17v17h-17zM2173 2279.3h17v17h-17zM2175.7 2276.1h17v17h-17zM2169.9 2269.7h17v17h-17zM2178.9 2269.1h17v17h-17zM2177.4 2262.5h17v17h-17zM2185.1 2260.3h17v17h-17zM2182.9 2255.3h17v17h-17zM2183.9 2252h17v17h-17zM2182.6 2245.2h17v17h-17zM2186.3 2241.1h17v17h-17zM2190.1 2237.7h17v17h-17zM2195 2235h17v17h-17zM2196.6 2230.6h17v17h-17zM2194.6 2225.4h17v17h-17zM2194.7 2219.1h17v17h-17zM2196 2215.4h17v17h-17zM2204.2 2214.9h17v17h-17zM2203 2208.3h17v17h-17zM2201.5 2203h17v17h-17zM2208.8 2202.1h17v17h-17zM2208.1 2197.2h17v17h-17zM2210.8 2192h17v17h-17zM2212.4 2188.6h17v17h-17zM2212.5 2184.7h17v17h-17zM2212.6 2178.3h17v17h-17zM2211.3 2173.7h17v17h-17zM2213.9 2169.1h17v17h-17zM2216.1 2166.4h17v17h-17zM2220.9 2163.8h17v17h-17zM2219.6 2158.3h17v17h-17zM2224.9 2155.2h17v17h-17zM2227.3 2149.4h17v17h-17zM2229.9 2146.6h17v17h-17zM2231.4 2142.7h17v17h-17zM2222.7 2135.4h17v17h-17zM2235 2133.1h17v17h-17zM2233.7 2126.3h17v17h-17zM2235 2122h17v17h-17zM2234.7 2116.8h17v17h-17zM2238.4 2113h17v17h-17zM2239.3 2109.3h17v17h-17zM2239 2104h17v17h-17zM2237.9 2097.7h17v17h-17zM2246.8 2096.5h17v17h-17zM2246.4 2091.6h17v17h-17zM2244.5 2084.6h17v17h-17zM2247.5 2079.5h17v17h-17zM2251.9 2076h17v17h-17zM2250.7 2068.6h17v17h-17zM2254.2 2064.5h17v17h-17z" fill="#000"/>
<path d="M414.8 2969.8L437.8 2968M465.8 2967.7L485 2968.8M513 2969.1L523.3 2968.7M551.1 2970.4L557.9 2971.3M585.7 2972.9L590.9 2972.6M618.9 2971.5L620.2 2971.4M648.1 2972.6L649.7 2972.8M705.6 2972.1L723.6 2972.1M781.9 2975.8L783.5 2976" fill="none" stroke="#ff7a7a" stroke-width="3.5"/>
<use href="#r" x="400.8" y="2970.8"/><use href="#r" x="451.8" y="2967"/><use href="#r" x="499" y="2969.5"/><use href="#r" x="537.3" y="2968.3"/><use href="#r" x="571.7" y="2973.4"/><use href="#r" x="604.9" y="2972.1"/><use href="#r" x="634.2" y="2970.8"/><use href="#r" x="663.6" y="2974.6"/><use href="#r" x="691.6" y="2972.1"/><use href="#r" x="737.6" y="2972.1"/><use href="#r" x="752.9" y="2970.8"/><use href="#r" x="768" y="2974.6"/><use href="#r" x="797.4" y="2977.2"/><use href="#r" x="816.5" y="2973.4"/><use href="#r" x="840.8" y="2977.2"/><use href="#r" x="863.7" y="2977.2"/><use href="#r" x="881.6" y="2977.2"/><use href="#r" x="896.9" y="2977.2"/><use href="#r" x="923.7" y="2974.6"/><use href="#r" x="949.2" y="2984.8"/><use href="#r" x="965.8" y="2977.2"/><use href="#r" x="979.8" y="2974.6"/><use href="#r" x="997.7" y="2975.9"/><use href="#r" x="1014.2" y="2975.9"/><use href="#r" x="1028.3" y="2979.7"/><use href="#r" x="1043.6" y="2977.2"/><use href="#r" x="1060.2" y="2978.5"/><use href="#r" x="1074.2" y="2975.9"/><use href="#r" x="1088.2" y="2977.2"/><use href="#r" x="1102.2" y="2978.5"/><use href="#r" x="1116.3" y="2977.2"/><use href="#r" x="1130.3" y="2977.2"/><use href="#r" x="1144" y="2977.5"/><use href="#r" x="1149.9" y="2977.3"/><use href="#r" x="1152.8" y="2976.4"/><use href="#r" x="1162.9" y="2975.7"/><use href="#r" x="1168.8" y="2976"/><use href="#r" x="1177.2" y="2976.7"/><use href="#r" x="1183.2" y="2975.8"/><use href="#r" x="1191.6" y="2977"/><use href="#r" x="1195.8" y="2976.9"/><use href="#r" x="1202.2" y="2976.4"/><use href="#r" x="1209.1" y="2975.5"/><use href="#r" x="1213.5" y="2973.7"/><use href="#r" x="1217.7" y="2975.9"/><use href="#r" x="1223.4" y="2974.8"/><use href="#r" x="1228.7" y="2973.4"/><use href="#r" x="1231.4" y="2973"/><use href="#r" x="1240" y="2972.7"/><use href="#r" x="1245.8" y="2972.9"/><use href="#r" x="1252.1" y="2971.2"/><use href="#r" x="1261" y="2972.6"/><use href="#r" x="1265.6" y="2971"/><use href="#r" x="1274.4" y="2971"/><use href="#r" x="1281.1" y="2968.5"/><use href="#r" x="1289.4" y="2971.4"/><use href="#r" x="1294.9" y="2969.3"/><use href="#r" x="1300.2" y="2967.8"/><use href="#r" x="1305.6" y="2966.3"/><use href="#r" x="1313.2" y="2967.5"/><use href="#r" x="1316.1" y="2965.6"/><use href="#r" x="1320.9" y="2964.9"/><use href="#r" x="1329.2" y="2963.4"/><use href="#r" x="1337.5" y="2961.9"/><use href="#r" x="1344" y="2961.9"/><use href="#r" x="1348.5" y="2961.3"/><use href="#r" x="1355.7" y="2959.7"/><use href="#r" x="1358.1" y="2958.7"/><use href="#r" x="1362.5" y="2960.1"/><use href="#r" x="1364.6" y="2959.8"/><use href="#r" x="1371.7" y="2956.5"/><use href="#r" x="1377.8" y="2957.1"/><use href="#r" x="1380.9" y="2955.5"/><use href="#r" x="1387.4" y="2954.1"/><use href="#r" x="1390.6" y="2955.1"/><use href="#r" x="1394.8" y="2954.2"/><use href="#r" x="1396.6" y="2951.8"/><use href="#r" x="1401.3" y="2951.7"/><use href="#r" x="1405.2" y="2949.8"/><use href="#r" x="1409.1" y="2948"/><use href="#r" x="1414.2" y="2948.9"/><use href="#r" x="1420.4" y="2947"/><use href="#r" x="1424.9" y="2946.1"/><use href="#r" x="1431.2" y="2945.8"/><use href="#r" x="1436.9" y="2942.1"/><use href="#r" x="1442.7" y="2941.2"/><use href="#r" x="1448.2" y="2939.3"/><use href="#r" x="1450.8" y="2936.8"/><use href="#r" x="1455.1" y="2937"/><use href="#r" x="1459.9" y="2934.4"/><use href="#r" x="1466" y="2933.8"/><use href="#r" x="1470.8" y="2931.4"/><use href="#r" x="1472.6" y="2930.7"/><use href="#r" x="1476.4" y="2931.6"/><use href="#r" x="1478.4" y="2929.4"/><use href="#r" x="1481.9" y="2928.3"/><use href="#r" x="1486.4" y="2927.2"/><use href="#r" x="1488.6" y="2924.3"/><use href="#r" x="1494.2" y="2923.3"/><use href="#r" x="1496.2" y="2922.7"/><use href="#r" x="1501" y="2921.9"/><use href="#r" x="1504.7" y="2920.4"/><use href="#r" x="1508.5" y="2918.1"/><use href="#r" x="1512.1" y="2918.8"/><use href="#r" x="1516.7" y="2914.9"/><use href="#r" x="1518.4" y="2914"/><use href="#r" x="1521.3" y="2913.8"/><use href="#r" x="1527.1" y="2910.3"/><use href="#r" x="1531.8" y="2910"/><use href="#r" x="1533.3" y="2908.5"/><use href="#r" x="1538.8" y="2905.1"/><use href="#r" x="1543.2" y="2905.7"/><use href="#r" x="1544.6" y="2902.6"/><use href="#r" x="1549.7" y="2900.5"/><use href="#r" x="1554.4" y="2898.5"/><use href="#r" x="1556.9" y="2897.2"/><use href="#r" x="1561.5" y="2894.9"/><use href="#r" x="1564.3" y="2891.9"/><use href="#r" x="1566.4" y="2892.1"/><use href="#r" x="1568.3" y="2889.1"/><use href="#r" x="1571.4" y="2889.1"/><use href="#r" x="1574.7" y="2887.4"/><use href="#r" x="1577.1" y="2886.7"/><use href="#r" x="1578.8" y="2884.5"/><use href="#r" x="1581.3" y="2884"/><use href="#r" x="1583.3" y="2882.2"/><use href="#r" x="1588.5" y="2879.7"/><use href="#r" x="1589.9" y="2878"/><use href="#r" x="1594.2" y="2877.2"/><use href="#r" x="1598.8" y="2874.3"/><use href="#r" x="1601.2" y="2870.5"/><use href="#r" x="1605" y="2869.3"/><use href="#r" x="1607" y="2868"/><use href="#r" x="1608.7" y="2865.3"/><use href="#r" x="1613.5" y="2862.8"/><use href="#r" x="1616.1" y="2862.1"/><use href="#r" x="1618.3" y="2859.7"/><use href="#r" x="1621.7" y="2858.7"/><use href="#r" x="1626" y="2856.3"/><use href="#r" x="1630.1" y="2852.2"/><use href="#r" x="1633.7" y="2850.8"/><use href="#r" x="1636.4" y="2849.7"/><use href="#r" x="1637" y="2847.3"/><use href="#r" x="1641.7" y="2845.6"/><use href="#r" x="1644.1" y="2843.9"/><use href="#r" x="1647" y="2841.8"/><use href="#r" x="1648" y="2839.8"/><use href="#r" x="1649.8" y="2838.7"/><use href="#r" x="1653.9" y="2834.4"/><use href="#r" x="1659.4" y="2831.8"/><use href="#r" x="1661.5" y="2830.1"/><use href="#r" x="1664.2" y="2827.5"/><use href="#r" x="1668.8" y="2823.3"/><use href="#r" x="1670.9" y="2820.9"/><use href="#r" x="1671.4" y="2818.8"/><use href="#r" x="1673.7" y="2818.6"/><use href="#r" x="1676.9" y="2814.8"/><use href="#r" x="1682" y="2812.1"/><use href="#r" x="1684" y="2809.6"/><use href="#r" x="1690.2" y="2807.5"/><use href="#r" x="1691.1" y="2803.5"/><use href="#r" x="1695.4" y="2799.2"/><use href="#r" x="1698.4" y="2799.4"/><use href="#r" x="1700" y="2794.2"/><use href="#r" x="1704.7" y="2792.8"/><use href="#r" x="1709.1" y="2788.7"/><use href="#r" x="1710.2" y="2786.2"/><use href="#r" x="1711.8" y="2783.2"/><use href="#r" x="1714.1" y="2781.7"/><use href="#r" x="1719" y="2777.7"/><use href="#r" x="1721.6" y="2776"/><use href="#r" x="1722.8" y="2774.3"/><use href="#r" x="1726.7" y="2770.2"/><use href="#r" x="1729.3" y="2766.5"/><use href="#r" x="1733.6" y="2763.7"/><use href="#r" x="1734.8" y="2760"/><use href="#r" x="1737" y="2757.9"/><use href="#r" x="1741.6" y="2753.9"/><use href="#r" x="1744.3" y="2751.7"/><use href="#r" x="1746.8" y="2748.5"/><use href="#r" x="1749" y="2746.1"/><use href="#r" x="1750.6" y="2743"/><use href="#r" x="1755.6" y="2739"/><use href="#r" x="1757.4" y="2733.1"/><use href="#r" x="1761.6" y="2729.8"/><use href="#r" x="1764.9" y="2725"/><use href="#r" x="1768.3" y="2721.1"/><use href="#r" x="1771.2" y="2719.5"/><use href="#r" x="1773.2" y="2717.5"/><use href="#r" x="1774.4" y="2713.6"/><use href="#r" x="1778.5" y="2709.7"/><use href="#r" x="1783.6" y="2705.5"/><use href="#r" x="1784.5" y="2702.3"/><use href="#r" x="1789" y="2697.9"/><use href="#r" x="1790.8" y="2695"/><use href="#r" x="1794.4" y="2690.2"/><use href="#r" x="1796.8" y="2684.9"/><use href="#r" x="1799.7" y="2681.9"/><use href="#r" x="1803.1" y="2679.8"/><use href="#r" x="1803.7" y="2674.7"/><use href="#r" x="1806" y="2670.9"/><use href="#r" x="1811.4" y="2666.4"/><use href="#r" x="1811.3" y="2664"/><use href="#r" x="1814.3" y="2660.6"/><use href="#r" x="1818" y="2656"/><use href="#r" x="1820.3" y="2651"/><use href="#r" x="1822.9" y="2647.3"/><use href="#r" x="1825.6" y="2641.9"/><use href="#r" x="1829.9" y="2637"/><use href="#r" x="1832.2" y="2631.6"/><use href="#r" x="1835.3" y="2629.3"/><use href="#r" x="1837" y="2626.2"/><use href="#r" x="1839.2" y="2624.2"/><use href="#r" x="1839.6" y="2621.7"/><use href="#r" x="1842.6" y="2618.9"/><use href="#r" x="1844.4" y="2616.2"/><use href="#r" x="1847.4" y="2611.4"/><use href="#r" x="1849.7" y="2607.1"/><use href="#r" x="1851.9" y="2603"/><use href="#r" x="1853.4" y="2600.2"/><use href="#r" x="1855.7" y="2595.3"/><use href="#r" x="1859.5" y="2589.7"/><use href="#r" x="1862.6" y="2584.6"/><use href="#r" x="1867.4" y="2579.9"/><use href="#r" x="1867.4" y="2574.7"/><use href="#r" x="1871.4" y="2569.4"/><use href="#r" x="1874.2" y="2565.5"/><use href="#r" x="1875.8" y="2560.9"/><use href="#r" x="1880.2" y="2556"/><use href="#r" x="1882" y="2550.6"/><use href="#r" x="1883.7" y="2549.3"/><use href="#r" x="1885.6" y="2545.5"/><use href="#r" x="1885.6" y="2541.8"/><use href="#r" x="1890.6" y="2537.7"/><use href="#r" x="1890.9" y="2534.1"/><use href="#r" x="1895" y="2529.4"/><use href="#r" x="1898.8" y="2524.7"/><use href="#r" x="1900" y="2521.5"/><use href="#r" x="1901.8" y="2516.7"/><use href="#r" x="1904.9" y="2511.3"/><use href="#r" x="1907.7" y="2506.4"/><use href="#r" x="1909.2" y="2503"/><use href="#r" x="1911.9" y="2497.2"/><use href="#r" x="1915.5" y="2491.8"/><use href="#r" x="1916.7" y="2489.5"/><use href="#r" x="1919.8" y="2487.4"/><use href="#r" x="1920.7" y="2483.1"/><use href="#r" x="1924.6" y="2478.8"/><use href="#r" x="1924.2" y="2475.7"/><use href="#r" x="1927.2" y="2470.7"/><use href="#r" x="1929.9" y="2465"/><use href="#r" x="1930.9" y="2461.5"/><use href="#r" x="1932.1" y="2459.1"/><use href="#r" x="1933.9" y="2456.8"/><use href="#r" x="1936.5" y="2454"/><use href="#r" x="1937" y="2449.5"/><use href="#r" x="1939.1" y="2444.9"/><use href="#r" x="1942.9" y="2439.8"/><use href="#r" x="1945.4" y="2433.9"/><use href="#r" x="1948" y="2428.6"/><use href="#r" x="1951.6" y="2425.5"/><use href="#r" x="1952.6" y="2420.6"/><use href="#r" x="1955.6" y="2415.6"/><use href="#r" x="1957.8" y="2409.9"/><use href="#r" x="1959.8" y="2407.6"/><use href="#r" x="1960.5" y="2404.5"/><use href="#r" x="1961.2" y="2402.8"/><use href="#r" x="1963.9" y="2398.9"/><use href="#r" x="1965.9" y="2393.4"/><use href="#r" x="1968.1" y="2391.3"/><use href="#r" x="1967.7" y="2388.5"/><use href="#r" x="1970.6" y="2386.6"/><use href="#r" x="1971.6" y="2379.7"/><use href="#r" x="1974.1" y="2375.7"/><use href="#r" x="1976.8" y="2371.1"/><use href="#r" x="1977.4" y="2367.5"/><use href="#r" x="1978.9" y="2365.2"/><use href="#r" x="1982" y="2361"/><use href="#r" x="1982.2" y="2358.9"/><use href="#r" x="1983.4" y="2355.4"/><use href="#r" x="1986.5" y="2351.4"/><use href="#r" x="1988.5" y="2345.7"/><use href="#r" x="1991.1" y="2341.1"/><use href="#r" x="1993.8" y="2336.9"/><use href="#r" x="1993.6" y="2334.5"/><use href="#r" x="1995.6" y="2330.7"/><use href="#r" x="1999.8" y="2326.2"/><use href="#r" x="1997" y="2323"/><use href="#r" x="2000" y="2320.6"/><use href="#r" x="2000.5" y="2317.6"/><use href="#r" x="2002.9" y="2314.5"/><use href="#r" x="2002.8" y="2312.3"/><use href="#r" x="2005.9" y="2306"/><use href="#r" x="2006.7" y="2302.4"/><use href="#r" x="2009.3" y="2300.5"/><use href="#r" x="2011.3" y="2294.5"/><use href="#r" x="2013.4" y="2289"/><use href="#r" x="2013.6" y="2287"/><use href="#r" x="2017.5" y="2282.5"/><use href="#r" x="2016.7" y="2278.5"/><use href="#r" x="2019.9" y="2276.7"/><use href="#r" x="2020.3" y="2274.3"/><use href="#r" x="2020.5" y="2271.9"/><use href="#r" x="2023.2" y="2266.7"/><use href="#r" x="2024.1" y="2261.4"/><use href="#r" x="2028.2" y="2257.6"/><use href="#r" x="2028.3" y="2251.7"/><use href="#r" x="2030.1" y="2249"/><use href="#r" x="2032" y="2247.2"/><use href="#r" x="2033.1" y="2242"/><use href="#r" x="2035" y="2238.7"/><use href="#r" x="2036.1" y="2236"/><use href="#r" x="2037.3" y="2231.3"/><use href="#r" x="2038.2" y="2229.5"/><use href="#r" x="2042.5" y="2223.6"/><use href="#r" x="2043.9" y="2218.1"/><use href="#r" x="2045.7" y="2213.1"/><use href="#r" x="2047.2" y="2208.2"/><use href="#r" x="2047.4" y="2205.8"/><use href="#r" x="2047.8" y="2203.9"/><use href="#r" x="2051.4" y="2198.9"/><use href="#r" x="2052.6" y="2193.2"/><use href="#r" x="2053.8" y="2191"/><use href="#r" x="2055.1" y="2185.7"/><use href="#r" x="2056.4" y="2181.4"/><use href="#r" x="2059.6" y="2177.1"/><use href="#r" x="2059.6" y="2174.8"/><use href="#r" x="2064" y="2169.8"/><use href="#r" x="2066" y="2163.9"/><use href="#r" x="2066.4" y="2158.8"/><use href="#r" x="2069.4" y="2154"/><use href="#r" x="2069.6" y="2149.3"/><use href="#r" x="2072.9" y="2144.9"/><use href="#r" x="2074.3" y="2143.4"/><use href="#r" x="2074.2" y="2140.5"/><use href="#r" x="2077.4" y="2135.7"/><use href="#r" x="2075.7" y="2130.5"/><use href="#r" x="2078.8" y="2126.9"/><use href="#r" x="2080" y="2123.4"/><use href="#r" x="2082.5" y="2118.9"/><use href="#r" x="2083.3" y="2115.4"/><use href="#r" x="2085.6" y="2110.5"/><use href="#r" x="2087" y="2105.9"/><use href="#r" x="2088.3" y="2100.2"/><use href="#r" x="2089.8" y="2094.9"/><use href="#r" x="2092.8" y="2092.3"/><use href="#r" x="2092.9" y="2088.3"/><use href="#r" x="2096.1" y="2082.6"/><use href="#r" x="2098.1" y="2076.8"/><use href="#r" x="2099.4" y="2071.3"/><use href="#r" x="2099.5" y="2068.7"/><use href="#r" x="2102.4" y="2064.7"/><use href="#r" x="2104" y="2062.6"/><use href="#r" x="2102.3" y="2058.2"/><use href="#r" x="2105.3" y="2053.2"/><use href="#r" x="2109.5" y="2050.9"/><use href="#r" x="2108.4" y="2048.2"/><use href="#r" x="2110.6" y="2042.8"/><use href="#r" x="2112.6" y="2039.6"/><use href="#r" x="2113.9" y="2036.6"/><use href="#r" x="2115.2" y="2030.1"/><use href="#r" x="2117.6" y="2024.4"/><use href="#r" x="2118.4" y="2018.9"/><use href="#r" x="2120.4" y="2014.8"/><use href="#r" x="2120.7" y="2011"/><use href="#r" x="2124.3" y="2005.5"/><use href="#r" x="2126.1" y="2000"/><use href="#r" x="2127" y="1997.4"/><use href="#r" x="2128.7" y="1993"/><use href="#r" x="2127.8" y="1989.5"/><use href="#r" x="2130.2" y="1986.7"/><use href="#r" x="2130.2" y="1984.8"/><use href="#r" x="2132.3" y="1980.3"/><use href="#r" x="2134.1" y="1977.4"/><use href="#r" x="2137" y="1971.1"/><use href="#r" x="2136.6" y="1968.2"/><use href="#r" x="2137.6" y="1964.2"/><use href="#r" x="2139.1" y="1960.2"/><use href="#r" x="2141.5" y="1954.3"/><use href="#r" x="2142.1" y="1952.3"/><use href="#r" x="2144.6" y="1945.9"/><use href="#r" x="2145.9" y="1943.2"/><use href="#r" x="2146" y="1937.5"/><use href="#r" x="2147.1" y="1934.1"/><use href="#r" x="2148.8" y="1931.2"/><use href="#r" x="2149.9" y="1928.3"/><use href="#r" x="2152" y="1927.1"/><use href="#r" x="2152.6" y="1921"/><use href="#r" x="2155.1" y="1916.7"/><use href="#r" x="2155.2" y="1911.2"/><use href="#r" x="2156.8" y="1905.7"/><use href="#r" x="2161.9" y="1900.2"/><use href="#r" x="2162.2" y="1895.2"/><use href="#r" x="2161.6" y="1891.6"/><use href="#r" x="2163.9" y="1886.9"/><use href="#r" x="2166.6" y="1884.3"/><use href="#r" x="2166.1" y="1881.7"/><use href="#r" x="2166.1" y="1879.2"/><use href="#r" x="2169" y="1874"/><use href="#r" x="2169.8" y="1870.2"/><use href="#r" x="2169.9" y="1863.6"/><use href="#r" x="2174.2" y="1861.3"/><use href="#r" x="2174.9" y="1855.8"/><use href="#r" x="2176.2" y="1848.8"/><use href="#r" x="2177.4" y="1843.6"/><use href="#r" x="2177.9" y="1841.5"/><use href="#r" x="2178.8" y="1835.6"/><use href="#r" x="2181.3" y="1833.1"/><use href="#r" x="2182.1" y="1828.5"/><use href="#r" x="2183.4" y="1822.9"/><use href="#r" x="2185.5" y="1817.2"/><use href="#r" x="2189" y="1813.7"/><use href="#r" x="2188.6" y="1807.4"/><use href="#r" x="2190.9" y="1805"/><use href="#r" x="2192.8" y="1800"/><use href="#r" x="2193.6" y="1793.7"/><use href="#r" x="2196.1" y="1787.4"/><use href="#r" x="2196.7" y="1780.4"/><use href="#r" x="2198.9" y="1775.3"/><use href="#r" x="2200.5" y="1771.6"/><use href="#r" x="2200.2" y="1769.5"/><use href="#r" x="2200.9" y="1767.3"/><use href="#r" x="2204" y="1765.3"/><use href="#r" x="2204.4" y="1761.8"/><use href="#r" x="2205.4" y="1755.3"/><use href="#r" x="2206.1" y="1750.2"/><use href="#r" x="2208.8" y="1744.8"/><use href="#r" x="2208.5" y="1742.6"/><use href="#r" x="2209.9" y="1740.3"/><use href="#r" x="2212" y="1734.3"/><use href="#r" x="2213.2" y="1730.7"/><use href="#r" x="2214.3" y="1725.3"/><use href="#r" x="2216.1" y="1723.2"/><use href="#r" x="2218.5" y="1717.2"/><use href="#r" x="2218.9" y="1711.3"/><use href="#r" x="2220.3" y="1708.5"/><use href="#r" x="2220.5" y="1706"/><use href="#r" x="2221.6" y="1704.3"/><use href="#r" x="2224.1" y="1699.7"/><use href="#r" x="2224.1" y="1694.5"/><use href="#r" x="2225.7" y="1689"/><use href="#r" x="2227.9" y="1683.7"/><use href="#r" x="2229.6" y="1678"/><use href="#r" x="2230.6" y="1676.4"/><use href="#r" x="2231.5" y="1673.1"/><use href="#r" x="2229.5" y="1669.9"/><use href="#r" x="2232.4" y="1665.4"/><use href="#r" x="2235.6" y="1663.6"/>
</g>
<path d="M289.3 1661.2V193.8H2265.3V1661.2M287.8 1661.2V3132.0H2263.9V1661.2M287.8 1661.2H2265.3" fill="none" stroke="#111" stroke-width="6" stroke-linejoin="miter"/>
<path d="M289.3 1456.1H258M289.3 1105.4H258M289.3 754.8H258M289.3 404.2H258M289.3 1631.4H273M289.3 1280.8H273M289.3 930.1H273M289.3 579.5H273M289.3 228.8H273M287.8 2981H257M287.8 2419.8H257M287.8 1858.6H257M287.8 2700.4H273M287.8 2139.2H273M593.6 1661.2V1631M1201.7 1661.2V1631M1809.8 1661.2V1631M897.7 1661.2V1647M1505.8 1661.2V1647M2113.8 1661.2V1647M591.9 3132.0V3163M1200 3132.0V3163M1808.1 3132.0V3163M287.8 3132.0V3147M896 3132.0V3147M1504.1 3132.0V3147M2112.2 3132.0V3147" fill="none" stroke="#111" stroke-width="5.4"/>
<text transform="translate(122.6,428.5) scale(1,1.0215)" font-family="'Liberation Sans',Arial,sans-serif" font-weight="normal" font-size="86.15" fill="#000">1.5</text>
<text transform="translate(121.8,779.4) scale(1,1.0215)" font-family="'Liberation Sans',Arial,sans-serif" font-weight="normal" font-size="86.15" fill="#000">1.0</text>
<text transform="translate(122.6,1129.8) scale(1,1.0215)" font-family="'Liberation Sans',Arial,sans-serif" font-weight="normal" font-size="86.15" fill="#000">0.5</text>
<text transform="translate(121.8,1480.2) scale(1,1.0215)" font-family="'Liberation Sans',Arial,sans-serif" font-weight="normal" font-size="86.15" fill="#000">0.0</text>
<text transform="translate(190.4,1884.7) scale(1,1.0215)" font-family="'Liberation Sans',Arial,sans-serif" font-weight="normal" font-size="86.15" fill="#000">2</text>
<text transform="translate(187.4,2444.0) scale(1,1.0215)" font-family="'Liberation Sans',Arial,sans-serif" font-weight="normal" font-size="86.15" fill="#000">1</text>
<text transform="translate(190.9,3006.2) scale(1,1.0215)" font-family="'Liberation Sans',Arial,sans-serif" font-weight="normal" font-size="86.15" fill="#000">0</text>
<text transform="translate(567.2,3247.8) scale(1,1.0215)" font-family="'Liberation Sans',Arial,sans-serif" font-weight="normal" font-size="86.15" fill="#000">2</text>
<text transform="translate(1176.0,3247.5) scale(1,1.0215)" font-family="'Liberation Sans',Arial,sans-serif" font-weight="normal" font-size="86.15" fill="#000">3</text>
<text transform="translate(1782.6,3247.0) scale(1,1.0215)" font-family="'Liberation Sans',Arial,sans-serif" font-weight="normal" font-size="86.15" fill="#000">4</text>
<text transform="translate(341.4,323.2) scale(1,1.0191)" font-family="'Liberation Sans',Arial,sans-serif" font-weight="bold" font-size="85.02" fill="#000">(a)</text>
<text transform="translate(1050.6,340.4) scale(1,1.0356)" font-family="'Liberation Sans',Arial,sans-serif" font-weight="bold" font-size="85.49" fill="#000">Co3sp</text>
<text transform="translate(1539.8,706.3) scale(1,0.9935)" font-family="'Liberation Sans',Arial,sans-serif" font-weight="bold" font-size="85.74" fill="#ff0000">annealed</text>
<text transform="translate(1648.4,1497.2) scale(1,0.9697)" font-family="'Liberation Sans',Arial,sans-serif" font-weight="bold" font-size="85.03" fill="#000">as-deposited</text>
<text transform="translate(340.0,1795.6) scale(1,0.9783)" font-family="'Liberation Sans',Arial,sans-serif" font-weight="bold" font-size="85.16" fill="#000">(b)</text>
<text transform="translate(1048.7,1822.2) scale(1,1.0203)" font-family="'Liberation Sans',Arial,sans-serif" font-weight="bold" font-size="85.8" fill="#000">Co9sp</text>
<text transform="translate(1425.8,2602.4) scale(1,0.9892)" font-family="'Liberation Sans',Arial,sans-serif" font-weight="bold" font-size="85.69" fill="#ff0000">annealed</text>
<text transform="translate(1705.3,3075.2) scale(1,0.9791)" font-family="'Liberation Sans',Arial,sans-serif" font-weight="bold" font-size="85.31" fill="#000">as-deposited</text>
<text transform="translate(1107.1,3401.4) scale(1,0.9947)" font-family="'Liberation Sans',Arial,sans-serif" font-weight="bold" font-size="98.09" fill="#000">ln T (K)</text>
<text transform="translate(56.0,135.0) scale(1,1.0599)" font-family="'Liberation Sans',Arial,sans-serif" font-weight="bold" font-size="99.4" fill="#000">R-R</text>
<text transform="translate(229.6,159.8) scale(1,0.9717)" font-family="'Liberation Sans',Arial,sans-serif" font-weight="bold" font-size="98.97" fill="#000">min</text>
<text transform="translate(432.4,133.0)" font-family="'Liberation Serif','Times New Roman',serif" font-weight="normal" font-size="103.0" fill="#000" stroke="#000" stroke-width="3">(</text>
<text transform="translate(464.2,134.2)" font-family="'Liberation Serif','Times New Roman',serif" font-weight="normal" font-size="104.7" fill="#000" stroke="#000" stroke-width="3">1</text>
<text transform="translate(514.8,135.7) scale(1,0.997)" font-family="'Liberation Serif','Times New Roman',serif" font-weight="normal" font-size="106.19" fill="#000" stroke="#000" stroke-width="2.4">0</text>
<text transform="translate(565.0,91.6)" font-family="'Liberation Serif','Times New Roman',serif" font-weight="normal" font-size="65.36" fill="#000" stroke="#000" stroke-width="2.4">&#8722;</text>
<text transform="translate(597.2,86.6) scale(1,1.0711)" font-family="'Liberation Serif','Times New Roman',serif" font-weight="normal" font-size="58.8" fill="#000" stroke="#000" stroke-width="1.6">3</text>
<text transform="translate(649.4,134.6) scale(1,0.9115)" font-family="'Liberation Serif','Times New Roman',serif" font-weight="normal" font-size="112.83" fill="#000" stroke="#000" stroke-width="2.4">&#937;</text>
<text transform="translate(728.8,133.0)" font-family="'Liberation Serif','Times New Roman',serif" font-weight="normal" font-size="103.0" fill="#000" stroke="#000" stroke-width="3">)</text>
<path d="M126.6 420.1h17.1v10.6h-17.1zM152.2 420.1h15.4v10.6h-15.4z" fill="#fcfcfc"/>
<path d="M125.8 771.0h17.1v10.6h-17.1zM151.4 771.0h15.4v10.6h-15.4z" fill="#fcfcfc"/>
<path d="M191.4 2435.6h17.1v10.6h-17.1zM217.0 2435.6h15.4v10.6h-15.4z" fill="#fcfcfc"/>
</svg>
</body></html>
